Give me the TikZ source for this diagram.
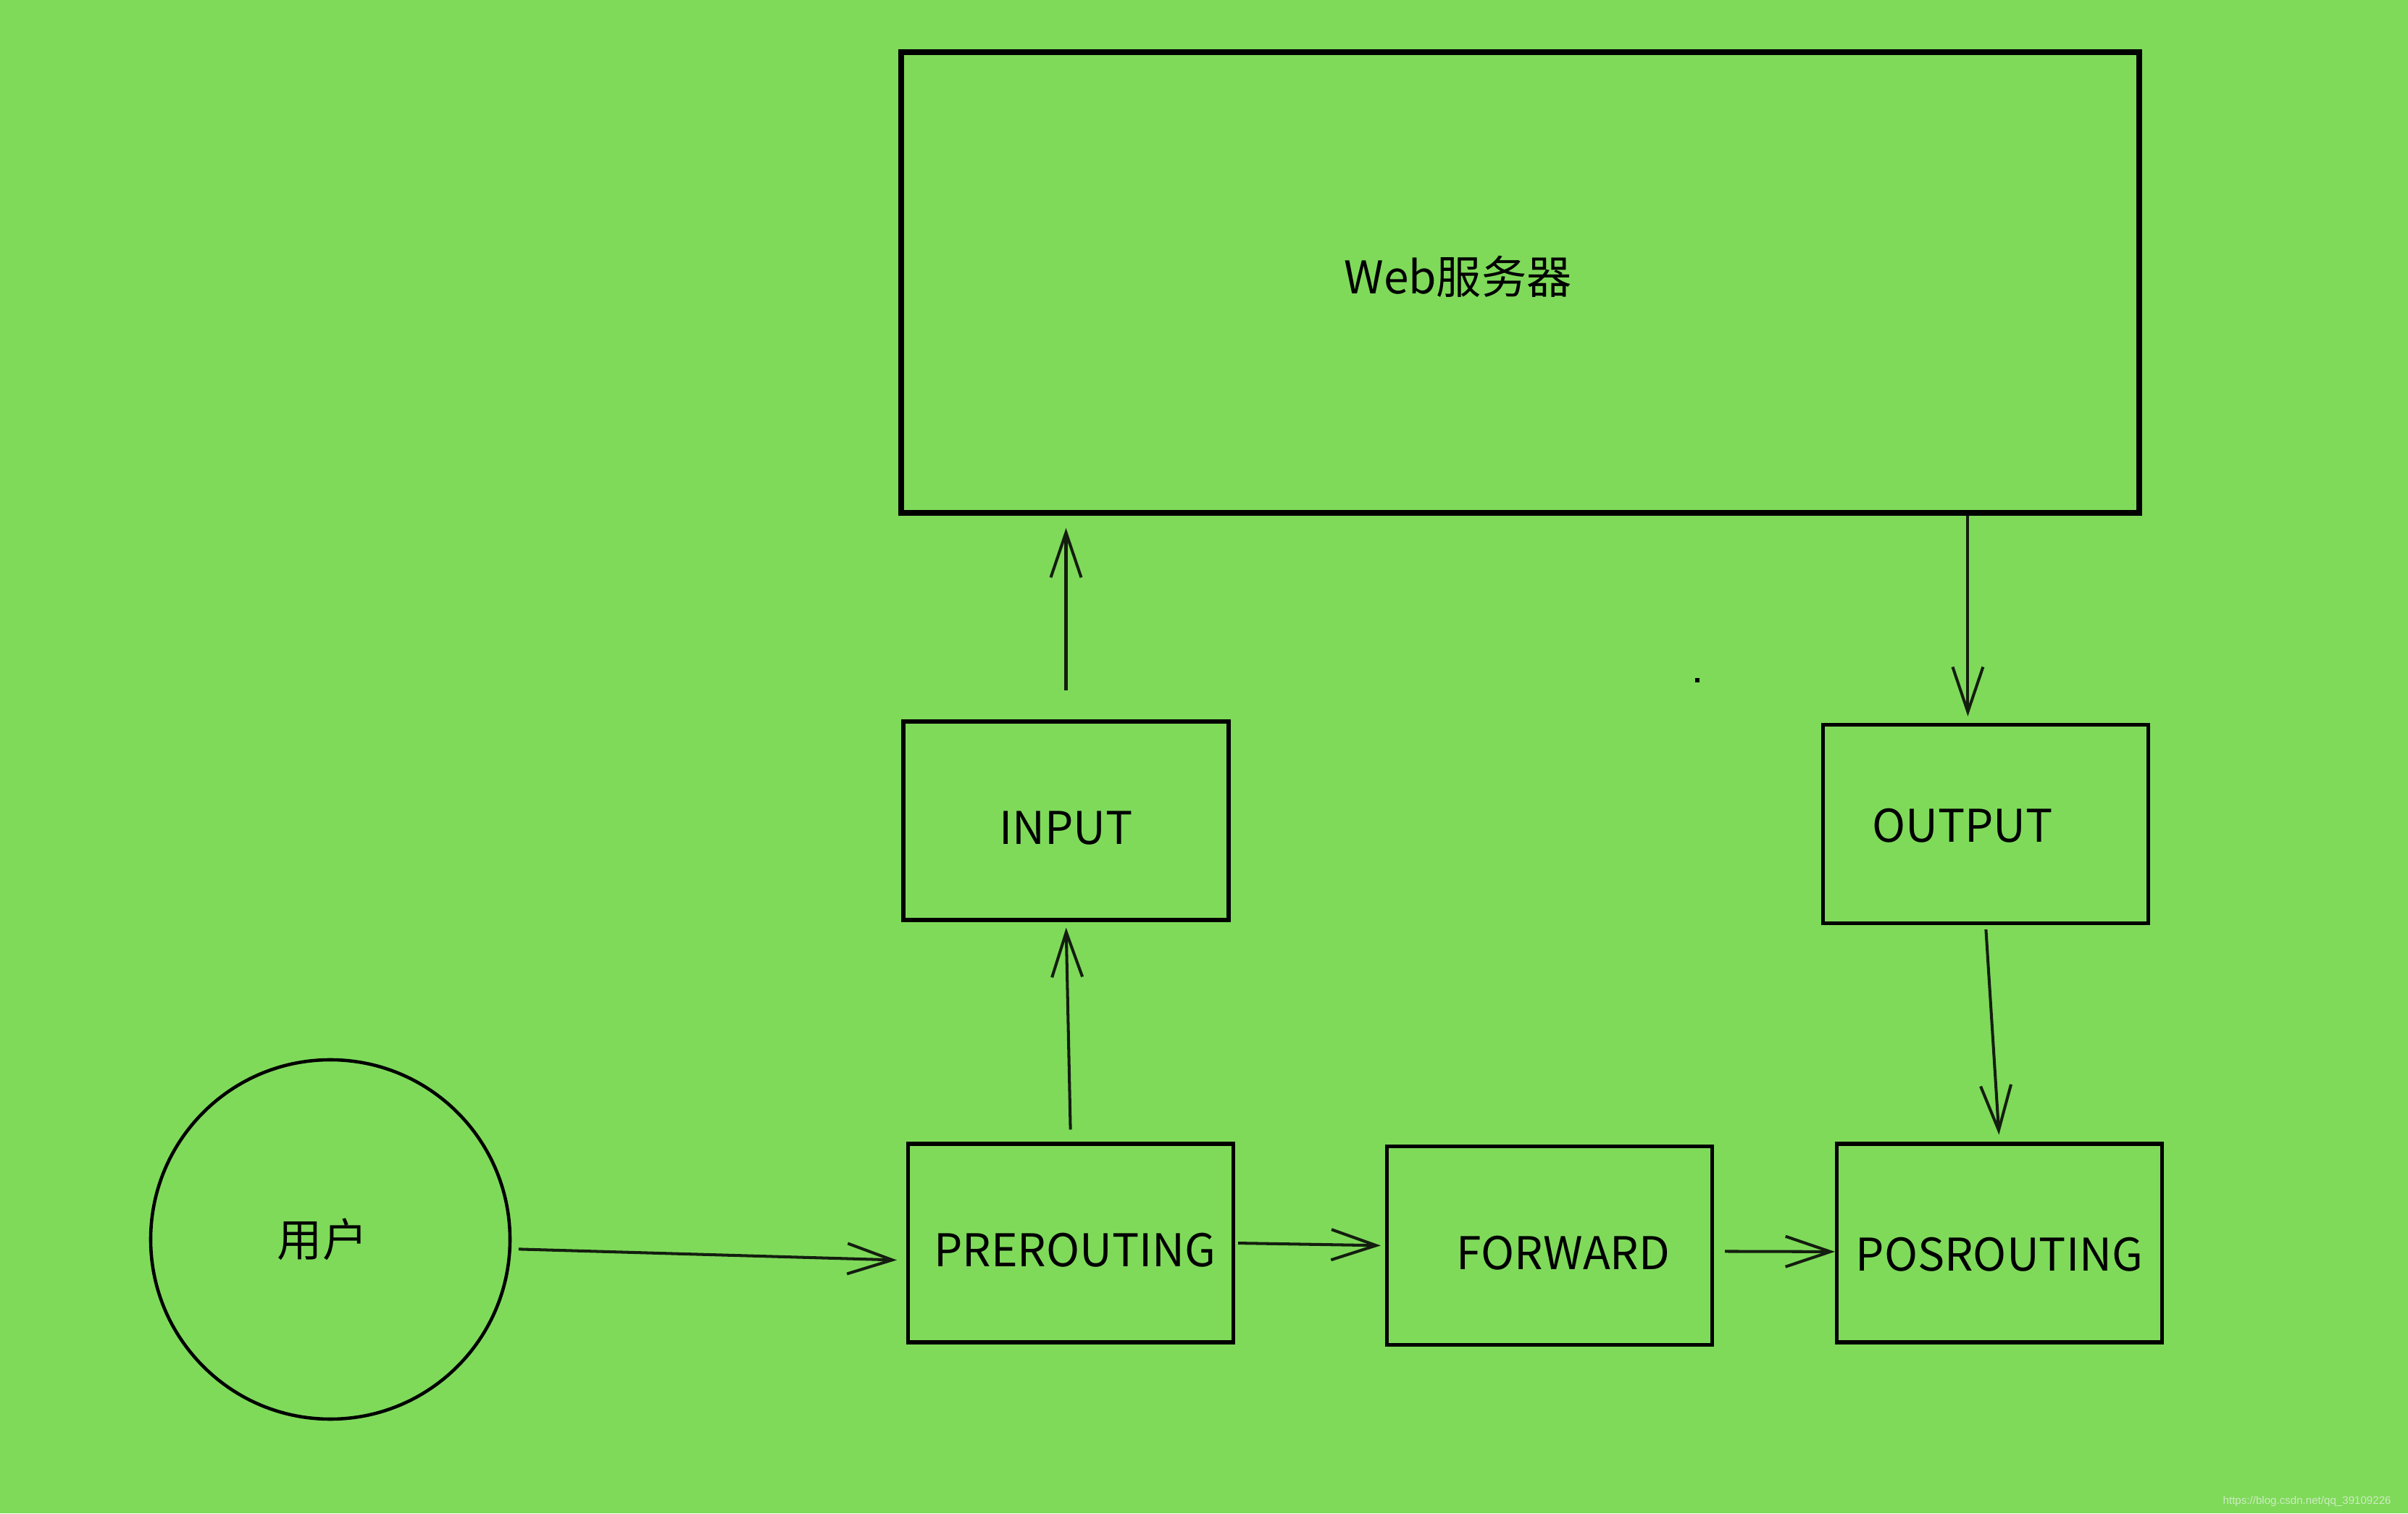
\documentclass[tikz,border=0pt]{standalone}
\usepackage{fontspec}
\usepackage{xcolor}
\setmainfont{Noto Sans CJK SC}
\newfontfamily\markfont{Liberation Sans}
\usetikzlibrary{positioning, arrows.meta}

\definecolor{bggreen}{RGB}{127,218,90}
\definecolor{markgray}{RGB}{205,236,193}
\definecolor{linedark}{RGB}{20,30,15}

\begin{document}
\begin{tikzpicture}[
        box/.style={draw, line width=1.45pt, minimum width=4.49cm, minimum height=2.74cm, inner sep=0pt},
        lbl/.style={font=\fontsize{17.7}{22}\selectfont, yshift=-0.1cm},
        flow/.style={color=linedark, line width=1.15pt, -{Straight Barb[length=0.62cm, width=0.42cm, line width=1.15pt]}}
    ]
        \fill[bggreen] (0,0) rectangle (33.24,20.89);
        \useasboundingbox (0,0) rectangle (33.24,20.89);

        \node[box, line width=2.2pt, minimum width=17.09cm, minimum height=6.36cm,
            label={[lbl, xshift=-0.86cm, yshift=0.18cm]center:Web服务器}] (web) at (20.985,16.99) {};
        \node[box, label={[lbl]center:INPUT}] (input) at (14.715,9.56) {};
        \node[box, label={[lbl, xshift=-0.32cm, yshift=0.08cm]center:OUTPUT}] (output) at (27.41,9.515) {};
        \node[box, label={[lbl, xshift=0.06cm]center:PREROUTING}] (pre) at (14.78,3.73) {};
        \node[box, label={[lbl, xshift=0.19cm]center:FORWARD}] (fwd) at (21.39,3.695) {};
        \node[box, label={[lbl, yshift=-0.06cm]center:POSROUTING}] (post) at (27.60,3.73) {};
        \node[draw, circle, line width=1.3pt, minimum size=4.96cm, inner sep=0pt,
            label={[lbl, xshift=-0.11cm, yshift=0.1cm]center:用户}] (user) at (4.56,3.78) {};

        \node[fill=black, minimum size=0.06cm, inner sep=0pt] (dot) at (23.43,11.50) {};

        \path[flow]
        (user.-3) edge[shorten <=0.1cm, shorten >=0.13cm] (pre.186)
        (pre.east) edge[shorten <=0.04cm, shorten >=0.06cm] (fwd.west)
        (fwd.-2) edge[shorten <=0.15cm] (post.183)
        (pre.north) edge[shorten <=0.17cm, shorten >=0.08cm] (input.south)
        (input.north) edge[shorten <=0.4cm, shorten >=0.17cm] (web.south -| input.north)
        (web.south -| output.100) edge[shorten >=0.09cm] (output.100)
        (output.south) edge[shorten <=0.06cm, shorten >=0.1cm] (post.north);

        \node[anchor=base east, text=markgray, font=\markfont\fontsize{4.3}{5}\selectfont] (mark) at (33.13,0.13)
            {https://blog.csdn.net/qq\_39109226};
    \end{tikzpicture}
\end{document}
